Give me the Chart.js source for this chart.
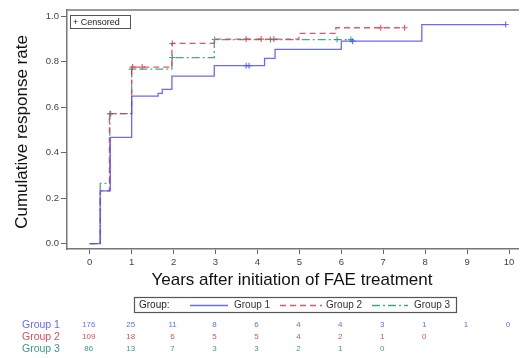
<!DOCTYPE html>
<html><head><meta charset="utf-8">
<script src="https://cdn.jsdelivr.net/npm/chart.js@4/dist/chart.umd.min.js"></script>
<style>html,body{margin:0;padding:0;background:#fff}#wrap{width:524px;height:358px}</style>
</head><body><div id="wrap"><canvas id="c" width="524" height="358"></canvas></div>
<script>
const xTicks = [0,1,2,3,4,5,6,7,8,9,10];
const yTicks = [0,0.2,0.4,0.6,0.8,1.0];
const groups = ["Group 1","Group 2","Group 3"];
const g1Times = [0,0.25,0.49,1.0,1.63,1.73,1.96,2.97,4.17,4.42,6.0,7.92,9.92];
const g1Rate  = [0,0.232,0.467,0.648,0.66,0.678,0.736,0.782,0.814,0.854,0.89,0.963,0.963];
const g1Cens  = [3.73,3.80,6.27,9.92];
const g2Times = [0,0.25,0.47,1.0,1.96,2.97,4.99,5.87,7.51];
const g2Rate  = [0,0.232,0.571,0.776,0.88,0.899,0.924,0.949,0.949];
const g2Cens  = [0.48,1.02,1.25,1.97,3.73,4.09,4.39,6.94,7.51];
const g3Times = [0,0.25,0.48,1.0,1.96,2.97,6.27];
const g3Rate  = [0,0.265,0.571,0.767,0.818,0.897,0.897];
const g3Cens  = [0.5,1.0,1.97,2.98,4.31,5.9,6.23];
const g1Risk = [176,25,11,8,6,4,4,3,1,1,0];
const g2Risk = [109,18,6,5,5,4,2,1,0];
const g3Risk = [86,13,7,3,3,2,1,0];

const C1='rgba(80,80,250,0.85)', C2='rgba(220,60,75,0.85)', C3='rgba(40,150,125,0.85)';
const T1='#6a6af5', T2='#d9505e', T3='#3f9a88';
const FONT='"Liberation Sans", Arial, sans-serif';

function pts(t,r){return t.map((x,i)=>({x:x,y:r[i]}));}
function at(t,r,x){let v=r[0];for(let i=0;i<t.length;i++){if(t[i]<=x)v=r[i];}return v;}
function cens(c,t,r){return c.map(x=>({x:x,y:at(t,r,x)}));}

const lineDs=(label,data,color,dash)=>({label,data,showLine:true,stepped:'before',borderColor:color,borderWidth:1.3,borderDash:dash,pointRadius:0,fill:false});
const censDs=(label,data,color)=>({label,data,showLine:false,pointStyle:'cross',pointRadius:3,borderColor:color,borderWidth:1.1,backgroundColor:color});

const extras={id:'extras',
 afterDraw(chart){
  const ctx=chart.ctx, a=chart.chartArea, xs=chart.scales.x;
  ctx.save();
  ctx.strokeStyle='#777';ctx.lineWidth=1.5;
  ctx.beginPath();ctx.moveTo(a.left,a.top);ctx.lineTo(a.right,a.top);ctx.stroke();
  ctx.lineWidth=1;ctx.strokeStyle='#555';
  ctx.strokeRect(70.5,15.5,60,13);
  ctx.fillStyle='#222';ctx.font='9px '+FONT;ctx.textBaseline='middle';ctx.textAlign='left';
  ctx.fillText('+ Censored',73,22.5);
  ctx.save();ctx.translate(22,132);ctx.rotate(-Math.PI/2);
  ctx.font='17px '+FONT;ctx.textAlign='center';ctx.fillStyle='#111';
  ctx.fillText('Cumulative response rate',0,0);ctx.restore();
  ctx.font='17px '+FONT;ctx.textAlign='center';ctx.fillStyle='#111';
  ctx.fillText('Years after initiation of FAE treatment',292,280);
  ctx.strokeStyle='#555';ctx.lineWidth=1.2;ctx.strokeRect(134.5,297.5,322,15);
  ctx.font='10px '+FONT;ctx.textAlign='left';ctx.fillStyle='#222';
  ctx.fillText('Group:',139,305.5);
  const leg=[[190,228,234,C1,[]],[280,322,326,C2,[6,4]],[372,408,414,C3,[8,3,2,3]]];
  leg.forEach((l,i)=>{
   ctx.strokeStyle=l[3];ctx.lineWidth=1.3;ctx.setLineDash(l[4]);
   ctx.beginPath();ctx.moveTo(l[0],305.5);ctx.lineTo(l[1],305.5);ctx.stroke();ctx.setLineDash([]);
   ctx.fillStyle='#333';ctx.fillText(groups[i],l[2],305.5);
  });
  const rows=[[g1Risk,T1,325],[g2Risk,T2,337],[g3Risk,T3,349]];
  rows.forEach((r,i)=>{
   ctx.fillStyle=r[1];ctx.font='10.5px '+FONT;ctx.textAlign='left';
   ctx.fillText(groups[i],22,r[2]);
   ctx.font='8px '+FONT;ctx.textAlign='center';
   r[0].forEach((v,j)=>ctx.fillText(String(v),xs.getPixelForValue(xTicks[j])-1,r[2]));
  });
  ctx.restore();
 }};

new Chart(document.getElementById('c'),{
 type:'scatter',
 data:{datasets:[
  lineDs('Group 1',pts(g1Times,g1Rate),C1,[]),
  lineDs('Group 2',pts(g2Times,g2Rate),C2,[6,4]),
  lineDs('Group 3',pts(g3Times,g3Rate),C3,[8,3,2,3]),
  censDs('c1',cens(g1Cens,g1Times,g1Rate),C1),
  censDs('c2',cens(g2Cens,g2Times,g2Rate),C2),
  censDs('c3',cens(g3Cens,g3Times,g3Rate),C3)
 ]},
 options:{responsive:false,animation:false,devicePixelRatio:1,
  layout:{padding:{top:10,right:0,left:0,bottom:0}},
  plugins:{legend:{display:false},tooltip:{enabled:false}},
  scales:{
   x:{type:'linear',min:-0.542,max:10.236,
    afterBuildTicks:s=>{s.ticks=xTicks.map(v=>({value:v}));},
    afterFit:s=>{s.height=109;},
    grid:{drawOnChartArea:false,drawTicks:true,tickLength:5,color:'#666'},
    border:{display:true,color:'#777',width:1.5},
    ticks:{font:{family:FONT,size:9.5},color:'#444',padding:3,maxRotation:0,callback:v=>String(v)}},
   y:{type:'linear',min:-0.024,max:1.027,
    afterBuildTicks:s=>{s.ticks=yTicks.map(v=>({value:v}));},
    afterFit:s=>{s.width=67;},
    grid:{drawOnChartArea:false,drawTicks:true,tickLength:6,color:'#666'},
    border:{display:true,color:'#777',width:1.5},
    ticks:{font:{family:FONT,size:9.5},color:'#444',padding:2,callback:v=>Number(v).toFixed(1)}}
  }},
 plugins:[extras]
});
</script></body></html>
